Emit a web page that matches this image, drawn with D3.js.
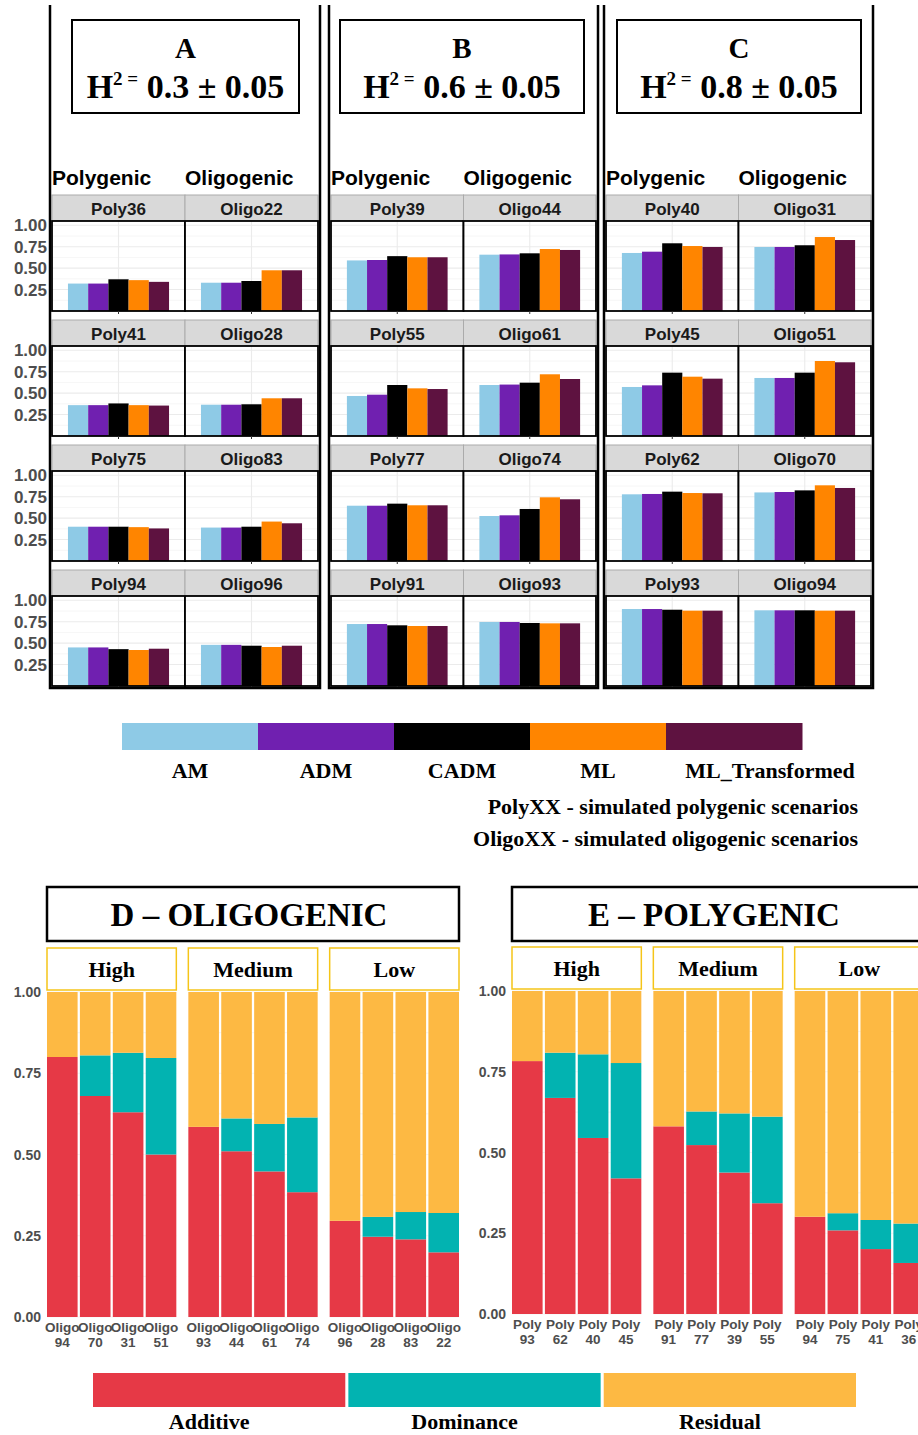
<!DOCTYPE html>
<html>
<head>
<meta charset="utf-8">
<script src="https://cdn.jsdelivr.net/npm/d3@7"></script>
<style>
  body { margin: 0; background: #fff; }
  svg { display: block; }
</style>
</head>
<body>
<div id="chart"></div>
<script>
// estimation models (top panels)
const models = ["AM", "ADM", "CADM", "ML", "ML_Transformed"];
const modelColors = ["#8ecae6", "#7020b0", "#000000", "#ff8500", "#5e1240"];

const panelLetters = ["A", "B", "C"];
const panelH2 = ["0.3", "0.6", "0.8"];
const yTicksTop = [0.25, 0.5, 0.75, 1.0];

// A : H2 = 0.3
const polyA = ["Poly36", "Poly41", "Poly75", "Poly94"];
const oligoA = ["Oligo22", "Oligo28", "Oligo83", "Oligo96"];
const polyValuesA = [[0.32, 0.32, 0.37, 0.36, 0.34], [0.36, 0.36, 0.38, 0.36, 0.355], [0.40, 0.40, 0.40, 0.395, 0.38], [0.45, 0.45, 0.43, 0.42, 0.435]];
const oligoValuesA = [[0.33, 0.33, 0.35, 0.475, 0.475], [0.365, 0.365, 0.37, 0.44, 0.44], [0.39, 0.39, 0.40, 0.46, 0.44], [0.48, 0.48, 0.47, 0.455, 0.47]];

// B : H2 = 0.6
const polyB = ["Poly39", "Poly55", "Poly77", "Poly91"];
const oligoB = ["Oligo44", "Oligo61", "Oligo74", "Oligo93"];
const polyValuesB = [[0.59, 0.595, 0.64, 0.627, 0.627], [0.467, 0.482, 0.595, 0.556, 0.548], [0.645, 0.645, 0.669, 0.65, 0.65], [0.723, 0.723, 0.708, 0.70, 0.70]];
const oligoValuesB = [[0.657, 0.66, 0.673, 0.723, 0.712], [0.595, 0.60, 0.622, 0.72, 0.665], [0.525, 0.533, 0.607, 0.743, 0.72], [0.747, 0.747, 0.735, 0.731, 0.731]];

// C : H2 = 0.8
const polyC = ["Poly40", "Poly45", "Poly62", "Poly93"];
const oligoC = ["Oligo31", "Oligo51", "Oligo70", "Oligo94"];
const polyValuesC = [[0.677, 0.692, 0.79, 0.758, 0.747], [0.572, 0.591, 0.739, 0.692, 0.669], [0.778, 0.782, 0.809, 0.793, 0.79], [0.898, 0.898, 0.89, 0.879, 0.879]];
const oligoValuesC = [[0.747, 0.747, 0.767, 0.863, 0.828], [0.677, 0.677, 0.739, 0.875, 0.86], [0.80, 0.805, 0.824, 0.883, 0.852], [0.883, 0.883, 0.883, 0.879, 0.879]];

// variance components (bottom panels)
const components = ["Additive", "Dominance", "Residual"];
const componentColors = ["#e63946", "#02b3b1", "#fdb943"];
const levels = ["High", "Medium", "Low"];
const yTicksBottom = [0, 0.25, 0.5, 0.75, 1.0];

const oligoScenarios = ["Oligo94", "Oligo70", "Oligo31", "Oligo51", "Oligo93", "Oligo44", "Oligo61", "Oligo74", "Oligo96", "Oligo28", "Oligo83", "Oligo22"];
const oligoLevel = ["High", "High", "High", "High", "Medium", "Medium", "Medium", "Medium", "Low", "Low", "Low", "Low"];
const oligoAdditive = [0.80, 0.68, 0.63, 0.50, 0.585, 0.51, 0.448, 0.384, 0.296, 0.247, 0.239, 0.199];
const oligoDominance = [0, 0.125, 0.183, 0.297, 0, 0.101, 0.146, 0.23, 0, 0.061, 0.084, 0.121];
const oligoResidual = [0.20, 0.195, 0.187, 0.203, 0.415, 0.389, 0.406, 0.386, 0.704, 0.692, 0.677, 0.68];

const polyScenarios = ["Poly93", "Poly62", "Poly40", "Poly45", "Poly91", "Poly77", "Poly39", "Poly55", "Poly94", "Poly75", "Poly41", "Poly36"];
const polyLevel = ["High", "High", "High", "High", "Medium", "Medium", "Medium", "Medium", "Low", "Low", "Low", "Low"];
const polyAdditive = [0.783, 0.669, 0.545, 0.42, 0.581, 0.523, 0.438, 0.343, 0.301, 0.259, 0.201, 0.158];
const polyDominance = [0, 0.14, 0.259, 0.357, 0, 0.104, 0.183, 0.268, 0, 0.053, 0.09, 0.122];
const polyResidual = [0.217, 0.191, 0.196, 0.223, 0.419, 0.373, 0.379, 0.389, 0.699, 0.688, 0.709, 0.72];

const sans = "'Liberation Sans', Arial, Helvetica, sans-serif";
const serif = "'Liberation Serif', 'Times New Roman', Times, serif";

const svg = d3.select("#chart").append("svg")
    .attr("width", 918)
    .attr("height", 1435)
    .style("font-family", sans);

// ---------- top : A, B, C ----------
const topFrames = [[50, 320], [329, 598], [604, 873]];
const titleBoxes = [[72, 299], [340, 584], [617, 861]];
const topSets = [
  { poly: polyA, oligo: oligoA, polyVals: polyValuesA, oligoVals: oligoValuesA },
  { poly: polyB, oligo: oligoB, polyVals: polyValuesB, oligoVals: oligoValuesB },
  { poly: polyC, oligo: oligoC, polyVals: polyValuesC, oligoVals: oligoValuesC }
];

const stripH = 26, panelH = 90;
const row = d3.scaleBand().domain(d3.range(4)).range([195, 695]);
const yTop = d3.scaleLinear().domain([0, 1.05]).range([panelH, 0]);

topSets.forEach((p, k) => {
  const [f0, f1] = topFrames[k];
  const g = svg.append("g");

  // title box
  const [b0, b1] = titleBoxes[k];
  const cx = (b0 + b1) / 2;
  g.append("rect")
      .attr("x", b0).attr("y", 20).attr("width", b1 - b0).attr("height", 93)
      .attr("fill", "none").attr("stroke", "#000").attr("stroke-width", 2);
  g.append("text")
      .attr("x", cx).attr("y", 58)
      .attr("text-anchor", "middle")
      .style("font-family", serif).style("font-weight", "bold").style("font-size", "29px")
      .text(panelLetters[k]);
  const t = g.append("text")
      .attr("x", cx).attr("y", 98)
      .attr("text-anchor", "middle")
      .style("font-family", serif).style("font-weight", "bold").style("font-size", "34px");
  t.append("tspan").text("H");
  t.append("tspan").attr("dy", -13).style("font-size", "19px").text("2 =");
  t.append("tspan").attr("dy", 13).text(" " + panelH2[k] + " ± 0.05");

  const col = d3.scaleBand().domain(["Polygenic", "Oligogenic"]).range([f0 + 2, f1 - 2]);
  const w = col.bandwidth();
  const x = d3.scaleBand().domain(models).range([w * 0.12, w * 0.88]);

  col.domain().forEach(type => {
    g.append("text")
        .attr("x", col(type)).attr("y", 185)
        .style("font-weight", "bold").style("font-size", "21px")
        .text(type);

    const names = type === "Polygenic" ? p.poly : p.oligo;
    const vals = type === "Polygenic" ? p.polyVals : p.oligoVals;

    names.forEach((name, i) => {
      const cell = g.append("g").attr("transform", `translate(${col(type)},${row(i)})`);
      cell.append("rect")
          .attr("width", w).attr("height", stripH)
          .attr("fill", "#d9d9d9").attr("stroke", "#ababab").attr("stroke-width", 1);
      cell.append("text")
          .attr("x", w / 2).attr("y", 19.5)
          .attr("text-anchor", "middle")
          .attr("fill", "#1a1a1a")
          .style("font-weight", "bold").style("font-size", "17px")
          .text(name);

      const pg = cell.append("g").attr("transform", `translate(0,${stripH})`);
      pg.append("rect").attr("width", w).attr("height", panelH).attr("fill", "#fff");
      // grid
      pg.selectAll(".minor").data([0.125, 0.375, 0.625, 0.875]).join("line")
          .attr("x1", 0).attr("x2", w)
          .attr("y1", d => yTop(d)).attr("y2", d => yTop(d))
          .attr("stroke", "#f4f4f4").attr("stroke-width", 0.8);
      pg.selectAll(".major").data([0.25, 0.5, 0.75, 1.0]).join("line")
          .attr("x1", 0).attr("x2", w)
          .attr("y1", d => yTop(d)).attr("y2", d => yTop(d))
          .attr("stroke", "#ebebeb").attr("stroke-width", 1.1);
      pg.append("line")
          .attr("x1", w / 2).attr("x2", w / 2).attr("y1", 0).attr("y2", panelH)
          .attr("stroke", "#ebebeb").attr("stroke-width", 1.1);
      // bars
      pg.selectAll(".bar").data(vals[i]).join("rect")
          .attr("x", (d, j) => x(models[j]))
          .attr("y", d => yTop(d))
          .attr("width", x.bandwidth())
          .attr("height", d => yTop(0) - yTop(d))
          .attr("fill", (d, j) => modelColors[j]);
      pg.append("rect")
          .attr("width", w).attr("height", panelH)
          .attr("fill", "none").attr("stroke", "#000").attr("stroke-width", 1.8);
      pg.append("line")
          .attr("x1", w / 2).attr("x2", w / 2).attr("y1", panelH).attr("y2", panelH + 3)
          .attr("stroke", "#333").attr("stroke-width", 1);
    });
  });

  // y axis labels only on the first block
  if (k === 0) {
    d3.range(4).forEach(i => {
      g.selectAll(null).data(yTicksTop).join("text")
          .attr("x", 47)
          .attr("y", d => row(i) + stripH + yTop(d))
          .attr("dy", "0.36em")
          .attr("text-anchor", "end")
          .attr("fill", "#4d4d4d")
          .style("font-weight", "bold").style("font-size", "17px")
          .text(d => d.toFixed(2));
    });
  }

  // outer frame
  g.append("path")
      .attr("d", `M${f0},5V688H${f1}V5`)
      .attr("fill", "none").attr("stroke", "#000").attr("stroke-width", 2.5);
});

// ---------- top legend ----------
const legX = d3.scaleBand().domain(models).range([122, 802]);
const leg = svg.append("g");
leg.selectAll("rect").data(models).join("rect")
    .attr("x", d => legX(d)).attr("y", 723)
    .attr("width", legX.bandwidth() + 0.5).attr("height", 27)
    .attr("fill", (d, i) => modelColors[i]);
leg.selectAll("text").data(models).join("text")
    .attr("x", d => legX(d) + legX.bandwidth() / 2 + (d === "ML_Transformed" ? 36 : 0))
    .attr("y", 778)
    .attr("text-anchor", "middle")
    .style("font-family", serif).style("font-weight", "bold").style("font-size", "22px")
    .text(d => d);
leg.append("text")
    .attr("x", 858).attr("y", 814).attr("text-anchor", "end")
    .style("font-family", serif).style("font-weight", "bold").style("font-size", "22px")
    .text("PolyXX - simulated polygenic scenarios");
leg.append("text")
    .attr("x", 858).attr("y", 846).attr("text-anchor", "end")
    .style("font-family", serif).style("font-weight", "bold").style("font-size", "22px")
    .text("OligoXX - simulated oligogenic scenarios");

// ---------- bottom : D, E ----------
const bottomSets = [
  { title: "D – OLIGOGENIC", x0: 47, names: oligoScenarios, level: oligoLevel,
    add: oligoAdditive, dom: oligoDominance, res: oligoResidual, yTopPx: 992, yBotPx: 1317, stripTop: 948 },
  { title: "E – POLYGENIC", x0: 512, names: polyScenarios, level: polyLevel,
    add: polyAdditive, dom: polyDominance, res: polyResidual, yTopPx: 991, yBotPx: 1314, stripTop: 947 }
];

bottomSets.forEach(p => {
  const g = svg.append("g");
  const width = 412;
  const y = d3.scaleLinear().domain([0, 1]).range([p.yBotPx, p.yTopPx]);
  const grp = d3.scaleBand().domain(levels).range([p.x0, p.x0 + width]).paddingInner(0.085);

  g.append("rect")
      .attr("x", p.x0).attr("y", 887).attr("width", width).attr("height", 54)
      .attr("fill", "none").attr("stroke", "#000").attr("stroke-width", 2.5);
  g.append("text")
      .attr("x", p.x0 + width / 2 - 4).attr("y", 926)
      .attr("text-anchor", "middle")
      .style("font-family", serif).style("font-weight", "bold").style("font-size", "33px")
      .text(p.title);

  // y axis
  g.selectAll(".ytick").data(yTicksBottom).join("text")
      .attr("x", p.x0 - 6)
      .attr("y", d => y(d))
      .attr("dy", "0.36em")
      .attr("text-anchor", "end")
      .attr("fill", "#4d4d4d")
      .style("font-weight", "bold").style("font-size", "14px")
      .text(d => d.toFixed(2));

  const rows = p.names.map((n, i) => ({
    name: n, level: p.level[i], Additive: p.add[i], Dominance: p.dom[i], Residual: p.res[i]
  }));
  const series = d3.stack().keys(components)(rows);

  levels.forEach(lv => {
    const gx = grp(lv);
    const bw = grp.bandwidth();
    const sub = rows.filter(r => r.level === lv).map(r => r.name);
    const x = d3.scaleBand().domain(sub).range([gx, gx + bw]).paddingInner(0.07);

    // faint grid
    g.selectAll(null).data(d3.range(0, 1.001, 0.125)).join("line")
        .attr("x1", gx).attr("x2", gx + bw)
        .attr("y1", d => y(d)).attr("y2", d => y(d))
        .attr("stroke", "#f3f3f3").attr("stroke-width", 0.8);

    // strip
    g.append("rect")
        .attr("x", gx).attr("y", p.stripTop).attr("width", bw).attr("height", 42)
        .attr("fill", "#fff").attr("stroke", "#f5c518").attr("stroke-width", 1.5);
    g.append("text")
        .attr("x", gx + bw / 2).attr("y", p.stripTop + 29)
        .attr("text-anchor", "middle")
        .style("font-family", serif).style("font-weight", "bold").style("font-size", "22px")
        .text(lv);

    series.forEach((s, ci) => {
      g.selectAll(null).data(s.filter(d => d.data.level === lv)).join("rect")
          .attr("x", d => x(d.data.name))
          .attr("y", d => y(d[1]))
          .attr("width", x.bandwidth())
          .attr("height", d => y(d[0]) - y(d[1]))
          .attr("fill", componentColors[ci]);
    });

    // x labels: prefix on first line, number on second
    const lab = g.selectAll(null).data(sub).join("text")
        .attr("text-anchor", "middle")
        .attr("fill", "#4d4d4d")
        .style("font-weight", "bold").style("font-size", "13.5px");
    lab.append("tspan")
        .attr("x", d => x(d) + x.bandwidth() / 2)
        .attr("y", y(0) + 15)
        .text(d => d.replace(/\d+$/, ""));
    lab.append("tspan")
        .attr("x", d => x(d) + x.bandwidth() / 2)
        .attr("y", y(0) + 30)
        .text(d => d.match(/\d+$/)[0]);
  });
});

// ---------- bottom legend ----------
const compX = d3.scaleBand().domain(components).range([93, 856]).paddingInner(0.012);
const leg2 = svg.append("g");
leg2.selectAll("rect").data(components).join("rect")
    .attr("x", d => compX(d)).attr("y", 1373)
    .attr("width", compX.bandwidth()).attr("height", 34)
    .attr("fill", (d, i) => componentColors[i]);
leg2.selectAll("text").data(components).join("text")
    .attr("x", d => compX(d) + compX.bandwidth() / 2 - 10)
    .attr("y", 1429)
    .attr("text-anchor", "middle")
    .style("font-family", serif).style("font-weight", "bold").style("font-size", "22px")
    .text(d => d);
</script>
</body>
</html>
